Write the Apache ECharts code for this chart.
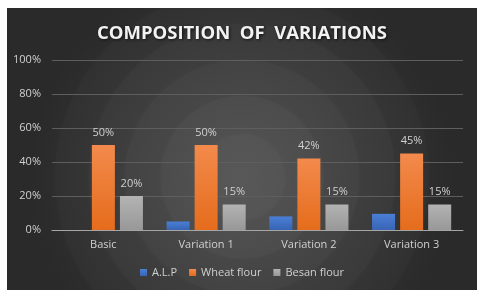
<!DOCTYPE html>
<html><head><meta charset="utf-8">
<script src="https://cdn.jsdelivr.net/npm/echarts@6/dist/echarts.min.js"></script>
<style>html,body{margin:0;padding:0;background:#fff;width:487px;height:301px;overflow:hidden}
#c{position:absolute;left:7px;top:8px;width:470px;height:282px}</style>
</head><body><div id="c"></div>
<script>
const categories = ['Basic', 'Variation 1', 'Variation 2', 'Variation 3'];
const alp = [0, 5, 8, 9.5];
const wheat = [50, 50, 42, 45];
const besan = [20, 15, 15, 15];
const seriesNames = ['A.L.P', 'Wheat flour', 'Besan flour'];
const yTicks = [0, 20, 40, 60, 80, 100];

const chart = echarts.init(document.getElementById('c'), null, {renderer: 'canvas'});
const font = 'Open Sans, Liberation Sans, sans-serif';
function grad(top, bot) {
  return new echarts.graphic.LinearGradient(0, 0, 0, 1, [{offset: 0, color: top}, {offset: 1, color: bot}]);
}
const bg = new echarts.graphic.RadialGradient(0.5, 0.6, 0.75, [
  {offset: 0, color: '#585858'}, {offset: 0.2, color: '#545454'}, {offset: 0.21, color: '#505050'},
  {offset: 0.38, color: '#4c4c4c'}, {offset: 0.39, color: '#474747'},
  {offset: 0.55, color: '#434343'}, {offset: 0.56, color: '#3e3e3e'},
  {offset: 0.72, color: '#3a3a3a'}, {offset: 0.73, color: '#353535'},
  {offset: 0.88, color: '#313131'}, {offset: 0.89, color: '#2d2d2d'},
  {offset: 1, color: '#2a2a2a'}
]);
const labelCfg = {show: true, position: 'top', color: '#d0d0d0', fontSize: 11, fontFamily: font, distance: 7,
  formatter: p => p.value + '%'};
chart.setOption({
  backgroundColor: bg,
  animation: false,
  title: {text: 'COMPOSITION  OF  VARIATIONS', left: 'center', top: 11,
    textStyle: {color: '#f2f2f2', fontSize: 18.5, fontWeight: 'bold', fontFamily: font,
      textShadowColor: 'rgba(0,0,0,0.7)', textShadowBlur: 3, textShadowOffsetX: 1, textShadowOffsetY: 1}},
  grid: {left: 45, right: 14, top: 52, bottom: 60, containLabel: false},
  legend: {bottom: 7, left: 'center', itemWidth: 7, itemHeight: 7, itemGap: 12,
    icon: 'rect', textStyle: {color: '#d0d0d0', fontSize: 11, fontFamily: font},
    data: seriesNames},
  xAxis: {type: 'category', data: categories,
    axisLine: {lineStyle: {color: '#a6a6a6', width: 1}}, axisTick: {show: false},
    axisLabel: {color: '#d0d0d0', fontSize: 11, fontFamily: font, margin: 9}},
  yAxis: {type: 'value', min: yTicks[0], max: yTicks[yTicks.length - 1], interval: 20,
    axisLine: {show: false}, axisTick: {show: false},
    splitLine: {lineStyle: {color: '#5e5e5e', width: 1}},
    axisLabel: {color: '#d0d0d0', fontSize: 11, fontFamily: font, margin: 11, formatter: '{value}%'}},
  series: [
    {name: seriesNames[0], type: 'bar', data: alp, barWidth: 23, barGap: '22%',
      itemStyle: {color: grad('#4a7fd6', '#3864b4')}},
    {name: seriesNames[1], type: 'bar', data: wheat, barWidth: 23, barGap: '22%',
      itemStyle: {color: grad('#f38a4c', '#e56c1c')}, label: labelCfg},
    {name: seriesNames[2], type: 'bar', data: besan, barWidth: 23, barGap: '22%',
      itemStyle: {color: grad('#b3b3b3', '#989898')}, label: labelCfg}
  ]
});
</script></body></html>
